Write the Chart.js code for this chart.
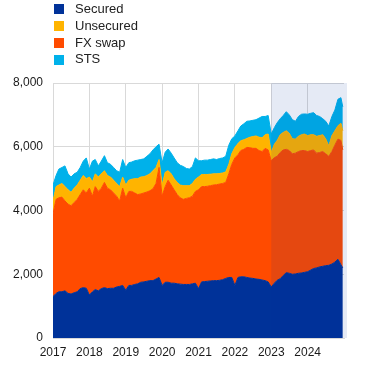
<!DOCTYPE html>
<html>
<head>
<meta charset="utf-8">
<script src="https://cdn.jsdelivr.net/npm/chart.js@4.4.1/dist/chart.umd.min.js"></script>
<style>
  body { margin: 0; background: #fff; }
  #wrap { position: relative; width: 372px; height: 390px; }
  #legend { position: absolute; left: 54px; top: 1px; font: 13px "Liberation Sans", Arial, sans-serif; color: #222; }
  #legend div { height: 16.8px; line-height: 16.8px; display: flex; align-items: center; }
  #legend span { display: inline-block; width: 10px; height: 10px; margin-right: 11px; }
</style>
</head>
<body>
<div id="wrap">
  <canvas id="chart" width="372" height="390"></canvas>
  <div id="legend"></div>
</div>
<script>
// monthly observations, Jan 2017 .. Dec 2024, plus last day shown
const dates = [];
for (let y = 2017; y <= 2024; y++) {
  for (let m = 1; m <= 12; m++) dates.push(y + "-" + String(m).padStart(2, "0") + "-01");
}
dates.push("2024-12-20");

const yearTicks = [2017, 2018, 2019, 2020, 2021, 2022, 2023, 2024];

const secured = [
  1300, 1400, 1450, 1450, 1480, 1400, 1380, 1420, 1450, 1550, 1580, 1560,
  1350, 1450, 1520, 1480, 1550, 1580, 1550, 1560, 1560, 1600, 1620, 1650,
  1500, 1650, 1650, 1680, 1700, 1750, 1760, 1780, 1800, 1800, 1850, 1900,
  1650, 1750, 1750, 1720, 1720, 1700, 1690, 1680, 1680, 1680, 1700, 1720,
  1550, 1760, 1770, 1780, 1790, 1800, 1800, 1810, 1830, 1870, 1900, 1900,
  1650, 1900, 1920, 1920, 1900, 1880, 1870, 1850, 1840, 1820, 1800, 1760,
  1600, 1720, 1810, 1860, 1960, 2050, 2030, 2000, 2010, 2030, 2040, 2060,
  2080, 2130, 2180, 2200, 2230, 2250, 2270, 2280, 2320, 2380, 2470, 2300, 2200
];
const fxSwap = [
  2600, 2950, 2950, 2970, 2820, 2800, 2770, 2830, 2900, 2950, 3070, 2990,
  3350, 3000, 3230, 3120, 3150, 3300, 3150, 3090, 2990, 2850, 2680, 3050,
  2900, 2950, 2950, 2870, 2800, 2770, 2790, 2800, 2820, 2880, 3000, 3450,
  2800, 3000, 3200, 3080, 2930, 2800, 2710, 2670, 2700, 2720, 2750, 2880,
  3100, 2990, 2980, 2980, 2990, 3000, 3010, 3020, 3020, 3010, 3250, 3550,
  4000, 3850, 3960, 4000, 4080, 4090, 4080, 4100, 4040, 4030, 4150, 4140,
  3960, 3940, 3890, 3960, 3940, 3870, 3850, 3780, 3790, 3820, 3840, 3820,
  3770, 3750, 3720, 3600, 3590, 3600, 3510, 3420, 3530, 3670, 3770, 3900, 3700
];
const unsecured = [
  400, 400, 400, 430, 450, 450, 420, 450, 450, 450, 450, 450,
  350, 450, 400, 450, 450, 370, 400, 400, 400, 400, 450, 350,
  400, 350, 380, 450, 500, 530, 510, 520, 530, 570, 500, 250,
  350, 450, 300, 350, 350, 380, 400, 430, 400, 380, 400, 380,
  400, 380, 380, 370, 360, 350, 340, 330, 330, 330, 300, 330,
  330, 350, 310, 300, 280, 330, 370, 390, 420, 430, 430, 500,
  270, 420, 500, 560, 550, 580, 540, 470, 440, 480, 500, 520,
  500, 500, 480, 530, 530, 530, 470, 330, 500, 450, 420, 540, 600
];
const sts = [
  500, 350, 500, 500, 650, 500, 480, 450, 400, 400, 450, 650,
  250, 650, 450, 350, 400, 470, 400, 400, 400, 400, 450, 550,
  550, 550, 540, 560, 580, 550, 560, 600, 630, 650, 650, 480,
  700, 630, 680, 650, 650, 620, 620, 600, 540, 520, 530, 670,
  510, 430, 450, 450, 460, 470, 450, 470, 470, 490, 600, 470,
  360, 400, 460, 500, 540, 510, 510, 510, 600, 670, 570, 580,
  570, 520, 550, 500, 530, 600, 580, 600, 560, 620, 640, 630,
  670, 670, 690, 650, 600, 500, 550, 620, 600, 650, 830, 800, 750
];

const shadeFrom = 2023;

const toYear = (d) => {
  const t = new Date(d + "T00:00:00Z");
  const y = t.getUTCFullYear();
  const start = Date.UTC(y, 0, 1), end = Date.UTC(y + 1, 0, 1);
  return y + (t - start) / (end - start);
};
const xs = dates.map(toYear);
const pts = (arr) => arr.map((v, i) => ({ x: xs[i], y: v }));

// stacking order bottom -> top; legend order differs
const series = [
  { label: "Secured", data: secured, color: "#003299" },
  { label: "FX swap", data: fxSwap, color: "#FF4B00" },
  { label: "Unsecured", data: unsecured, color: "#FFB400" },
  { label: "STS", data: sts, color: "#00B1EA" },
];
const legendOrder = ["Secured", "Unsecured", "FX swap", "STS"];

const legend = document.getElementById("legend");
legendOrder.forEach((name) => {
  const s = series.find((d) => d.label === name);
  const row = document.createElement("div");
  row.innerHTML = `<span style="background:${s.color}"></span>${name}`;
  legend.appendChild(row);
});

const shadePlugin = {
  id: "shade",
  afterDatasetsDraw(chart) {
    const { ctx, chartArea, scales } = chart;
    const x0 = scales.x.getPixelForValue(shadeFrom);
    ctx.save();
    ctx.fillStyle = "rgba(0,50,153,0.1)";
    ctx.fillRect(x0, chartArea.top, chartArea.right + 3 - x0, chartArea.bottom - chartArea.top);
    ctx.restore();
  },
};

new Chart(document.getElementById("chart").getContext("2d"), {
  type: "line",
  data: {
    datasets: series.map((s, i) => ({
      label: s.label,
      data: pts(s.data),
      backgroundColor: s.color,
      borderColor: s.color,
      borderWidth: 1,
      pointRadius: 0,
      tension: 0,
      fill: i === 0 ? "origin" : "-1",
    })),
  },
  options: {
    responsive: false,
    animation: false,
    layout: { padding: { top: 83, right: 28, left: 0, bottom: 0 } },
    plugins: { legend: { display: false }, tooltip: { enabled: false } },
    scales: {
      x: {
        type: "linear",
        min: 2017,
        max: 2025,
        afterFit: (s) => { s.height = 52; },
        afterBuildTicks: (s) => { s.ticks = yearTicks.concat([2025]).map((v) => ({ value: v })); },
        grid: {
          color: (c) => (c.tick && c.tick.value === 2025 ? "rgba(0,0,0,0)" : "#d9d9d9"),
          drawTicks: false,
        },
        border: { color: "#d9d9d9" },
        ticks: {
          padding: 7,
          color: "#1a1a1a",
          font: { family: "Liberation Sans, Arial", size: 12 },
          callback: (v) => (yearTicks.includes(v) ? String(v) : ""),
        },
      },
      y: {
        stacked: true,
        min: 0,
        max: 8000,
        afterFit: (s) => { s.width = 53; },
        grid: { color: "#d9d9d9", drawTicks: false },
        border: { color: "#d9d9d9" },
        ticks: {
          stepSize: 2000,
          padding: 10,
          color: "#1a1a1a",
          font: { family: "Liberation Sans, Arial", size: 12 },
          callback: (v) => v.toLocaleString("en-US"),
        },
      },
    },
  },
  plugins: [shadePlugin],
});
</script>
</body>
</html>
